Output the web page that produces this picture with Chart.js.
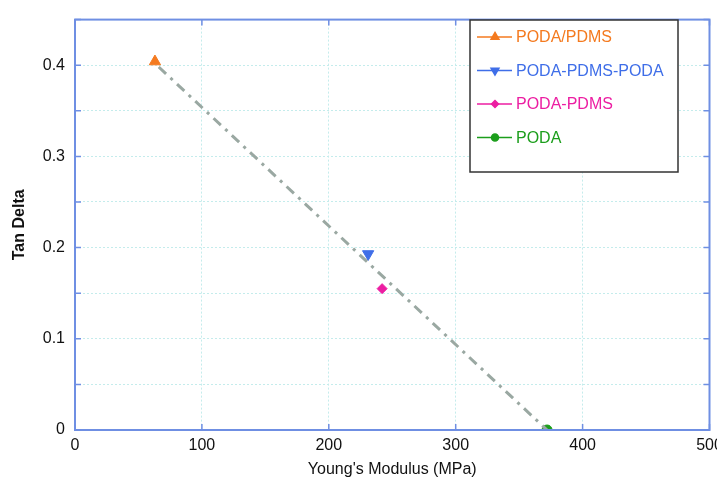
<!DOCTYPE html>
<html>
<head>
<meta charset="utf-8">
<script src="https://cdn.jsdelivr.net/npm/chart.js@4"></script>
<style>
  html, body { margin: 0; padding: 0; background: #fff; }
  #wrap { width: 717px; height: 483px; }
</style>
</head>
<body>
<div id="wrap"><canvas id="c"></canvas></div>
<script>
// ─── Data ─────────────────────────────────────
const seriesNames = ['PODA/PDMS', 'PODA-PDMS-PODA', 'PODA-PDMS', 'PODA'];
const modulus     = [63, 231, 242, 372];        // MPa
const tanDelta    = [0.404, 0.193, 0.155, 0.0];
const fitX        = [66, 372];
const fitY        = [0.398, 0.0];
const xTicks      = [0, 100, 200, 300, 400, 500];
const yTicks      = [0, 0.1, 0.2, 0.3, 0.4];

const colors  = ['#f47a1f', '#3f6ee8', '#ec1ea2', '#1c9e1c'];
const styles  = ['triangle', 'triangle', 'rectRot', 'circle'];
const rots    = [0, 180, 0, 0];
const radii   = [6.5, 6.5, 5, 5];

const FONT = 'Liberation Sans, Arial, sans-serif';
const FRAME = '#6f8fe3';

const datasets = seriesNames.map((name, i) => ({
  label: name,
  data: [{ x: modulus[i], y: tanDelta[i] }],
  pointStyle: styles[i], rotation: rots[i], radius: radii[i],
  backgroundColor: colors[i], borderColor: colors[i], borderWidth: 1,
  showLine: false,
}));
datasets.unshift({
  label: 'fit',
  data: fitX.map((x, i) => ({ x, y: fitY[i] })),
  showLine: true, borderColor: '#9aa8a2', borderWidth: 3,
  borderDash: [10, 6, 3, 6], pointRadius: 0, fill: false,
});

// ─── Frame, inward ticks and legend box ───────
const framePlugin = {
  id: 'frame',
  afterDatasetsDraw(chart) {
    const { ctx, chartArea: a, scales: { x, y } } = chart;
    ctx.save();
    ctx.strokeStyle = FRAME;
    ctx.lineWidth = 2;
    ctx.strokeRect(a.left, a.top, a.right - a.left, a.bottom - a.top);
    ctx.lineWidth = 1.5;
    ctx.beginPath();
    xTicks.forEach(v => {
      const px = x.getPixelForValue(v);
      ctx.moveTo(px, a.bottom); ctx.lineTo(px, a.bottom - 6);
      ctx.moveTo(px, a.top); ctx.lineTo(px, a.top + 6);
    });
    for (let k = 0; k <= 9; k++) {
      const py = y.getPixelForValue(k * 0.05);
      ctx.moveTo(a.left, py); ctx.lineTo(a.left + 6, py);
      ctx.moveTo(a.right, py); ctx.lineTo(a.right - 6, py);
    }
    ctx.stroke();

    // legend
    const bx = 470, by = 20, bw = 208, bh = 152;
    ctx.fillStyle = '#fff';
    ctx.fillRect(bx, by, bw, bh);
    ctx.strokeStyle = '#333';
    ctx.lineWidth = 1.5;
    ctx.strokeRect(bx, by, bw, bh);
    ctx.font = '16px ' + FONT;
    ctx.textBaseline = 'middle';
    seriesNames.forEach((name, i) => {
      const ly = by + 17 + i * 33.5;
      ctx.strokeStyle = colors[i];
      ctx.fillStyle = colors[i];
      ctx.lineWidth = 1.5;
      ctx.beginPath(); ctx.moveTo(bx + 7, ly); ctx.lineTo(bx + 42, ly); ctx.stroke();
      Chart.helpers.drawPoint(ctx, {
        pointStyle: styles[i], rotation: rots[i], radius: radii[i] * 0.7, borderWidth: 1,
      }, bx + 25, ly);
      ctx.fillStyle = colors[i];
      ctx.fillText(name, bx + 46, ly + 1);
    });
    ctx.restore();
  },
};

new Chart(document.getElementById('c'), {
  type: 'scatter',
  data: { datasets },
  plugins: [framePlugin],
  options: {
    responsive: true, maintainAspectRatio: false, animation: false,
    layout: { padding: { top: 12, right: 7, left: 6, bottom: 0 } },
    plugins: { legend: { display: false }, tooltip: { enabled: false } },
    scales: {
      x: {
        type: 'linear', min: 0, max: 500,
        afterBuildTicks(s) { s.ticks = xTicks.map(v => ({ value: v })); },
        afterFit(s) { s.height = 53; s.paddingRight = 0; s.paddingLeft = 0; },
        grid: { color: '#c4ecec', lineWidth: 1, drawTicks: false },
        border: { display: false, dash: [2, 2] },
        ticks: { color: '#111', font: { size: 16, family: FONT }, padding: 6 },
        title: { display: true, text: "Young's Modulus (MPa)", color: '#111', font: { size: 16, family: FONT }, padding: { top: 4 } },
      },
      y: {
        type: 'linear', min: 0, max: 0.45,
        afterBuildTicks(s) {
          const t = [];
          for (let k = 0; k <= 9; k++) t.push({ value: +(k * 0.05).toFixed(2) });
          s.ticks = t;
        },
        afterFit(s) { s.width = 69; },
        grid: { color: '#c4ecec', lineWidth: 1, drawTicks: false },
        border: { display: false, dash: [2, 2] },
        ticks: {
          color: '#111', font: { size: 16, family: FONT }, padding: 10,
          callback: v => (yTicks.some(t => Math.abs(t - v) < 1e-6) ? (v === 0 ? '0' : v.toFixed(1)) : ''),
        },
        title: { display: true, text: 'Tan Delta', color: '#111', font: { size: 16, family: FONT, weight: 'bold' }, padding: { bottom: 6 } },
      },
    },
  },
});
</script>
</body>
</html>
